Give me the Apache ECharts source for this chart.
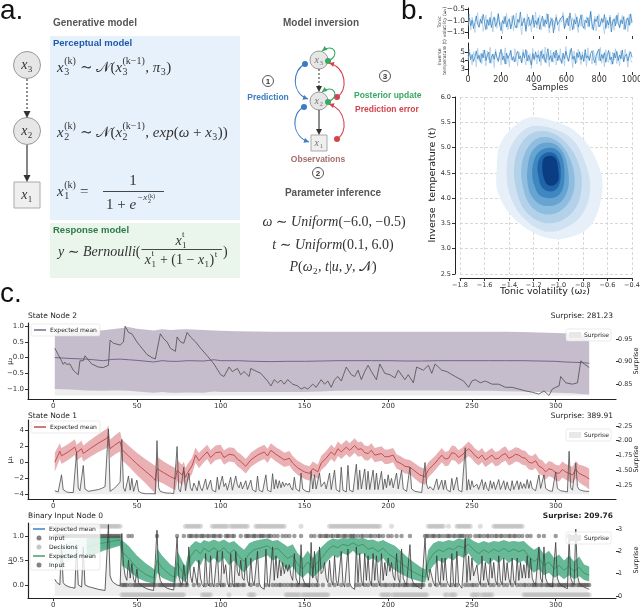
<!DOCTYPE html>
<html>
<head>
<meta charset="utf-8">
<script src="https://cdn.jsdelivr.net/npm/echarts@6/dist/echarts.min.js"></script>
<style>
html, body { margin: 0; padding: 0; background: #fff; }
#chart { width: 640px; height: 608px; }
</style>
</head>
<body>
<div id="chart"></div>
<script>
// ---------- panel b: MCMC traces (1000 samples, thinned) ----------
const tvLight = [-1.25,-0.7,-1.4,-0.85,-1.1,-1.5,-0.9,-0.65,-1.3,-1.05,
  -0.8,-1.45,-1.15,-0.75,-1.35,-0.95,-1.2,-0.6,-1.48,-1.0,
  -0.88,-1.32,-0.72,-1.22,-1.05,-1.55,-0.82,-1.12,-0.68,-1.38,
  -0.98,-1.26,-0.78,-1.42,-1.08,-0.66,-1.3,-0.92,-1.18,-1.6,
  -0.86,-1.03,-1.36,-0.7,-1.24,-0.94,-1.47,-0.8,-1.14,-0.62,
  -1.33,-1.01,-0.76,-1.4,-1.17,-0.9,-1.28,-0.67,-1.09,-1.52,
  -0.84,-1.21,-0.97,-1.37,-0.73,-1.12,-1.45,-0.88,-1.05,-0.64,
  -1.3,-0.95,-1.19,-0.79,-1.43,-1.06,-0.87,-1.34,-0.69,-1.16,
  -1.5,-0.91,-1.23,-0.74,-1.08,-1.39,-0.83,-1.27,-0.99,-0.58,
  -1.35,-1.11,-0.8,-1.44,-1.02,-0.71,-1.25,-0.93,-1.18,-1.56,
  -0.85,-1.07,-1.32,-0.75,-1.2,-0.96,-1.41,-0.82,-1.13,-0.66,
  -1.29,-1.0,-0.77,-1.38,-1.1,-0.89,-1.46,-0.72,-1.15,-0.94];
const tvDark = [-1.02,-0.88,-1.21,-0.97,-1.33,-1.08,-0.79,-1.15,-1.26,-0.93,
  -1.11,-0.72,-1.04,-1.38,-0.95,-1.19,-0.86,-1.29,-1.01,-0.83,
  -1.24,-1.07,-0.69,-1.16,-1.42,-0.98,-1.12,-0.81,-1.27,-1.03,
  -0.91,-1.35,-1.09,-0.77,-1.18,-1.31,-0.94,-1.06,-0.62,-1.22,
  -1.14,-0.89,-1.45,-1.02,-0.84,-1.2,-1.1,-0.75,-1.28,-0.99,
  -1.16,-0.87,-1.36,-1.05,-0.8,-1.23,-0.96,-1.13,-0.71,-1.3,
  -1.04,-0.9,-1.52,-1.08,-0.85,-1.17,-1.25,-0.92,-1.0,-0.78,
  -1.34,-1.11,-0.88,-1.21,-0.66,-1.06,-1.39,-0.95,-1.14,-0.83,
  -1.27,-1.01,-0.74,-1.19,-1.32,-0.97,-1.09,-0.86,-1.24,-0.6,
  -1.12,-1.4,-0.93,-1.03,-0.79,-1.26,-1.15,-0.89,-1.07,-0.73,
  -1.33,-0.98,-1.18,-0.84,-1.48,-1.05,-0.91,-1.22,-0.76,-1.1,
  -1.29,-0.96,-1.13,-0.82,-1.37,-1.02,-0.87,-1.2,-0.7,-1.08];
const ttLight = [3.9,5.3,4.2,3.5,5.0,4.6,3.3,5.4,4.0,4.8,
  3.6,5.2,4.4,3.4,5.1,4.1,5.5,3.7,4.7,3.2,
  5.3,4.3,3.8,5.0,3.5,4.9,4.0,5.45,3.6,4.6,
  3.3,5.2,4.2,3.9,5.35,4.5,3.4,5.0,4.1,3.7,
  5.25,4.3,3.5,5.1,3.9,4.8,3.1,5.4,4.0,4.6,
  3.6,5.15,4.25,3.45,5.3,4.05,5.55,3.7,4.75,3.3,
  5.2,4.15,3.8,5.05,3.5,4.9,4.0,5.35,3.65,4.55,
  3.4,5.6,4.2,3.85,5.25,4.45,3.2,5.1,4.05,3.75,
  5.3,4.35,3.55,5.0,3.95,4.85,3.35,5.45,4.1,4.6,
  3.6,5.2,4.3,3.45,5.1,4.0,5.5,3.7,4.7,3.3,
  5.25,4.15,3.8,5.0,3.55,4.95,4.05,5.35,3.65,4.5,
  3.4,5.15,4.25,3.9,5.3,4.4,3.25,5.05,4.1,3.75];
const ttDark = [4.5,4.9,4.1,4.7,3.9,4.4,5.1,4.2,4.6,3.8,
  4.8,4.3,5.2,4.0,4.55,4.95,3.7,4.4,4.75,4.15,
  5.0,4.35,3.95,4.65,5.3,4.1,4.5,3.6,4.85,4.25,
  4.6,5.15,4.05,4.45,3.85,4.7,5.05,4.2,4.55,3.75,
  4.9,4.3,5.25,3.95,4.6,4.4,3.5,4.8,4.15,5.0,
  4.35,4.65,3.9,5.1,4.25,4.7,3.8,4.5,5.35,4.1,
  4.55,3.85,4.95,4.3,5.2,4.0,4.6,4.45,3.7,4.85,
  4.2,5.05,4.4,3.95,4.75,5.4,4.15,4.5,3.65,4.9,
  4.35,5.0,4.1,4.65,3.9,5.25,4.3,4.55,4.0,4.8,
  5.1,4.2,3.75,4.6,4.45,5.3,3.95,4.7,4.25,4.9,
  3.8,4.55,5.15,4.1,4.4,3.6,4.85,4.3,5.05,4.0,
  4.65,4.2,5.2,3.85,4.5,4.75,3.95,4.6,5.0,4.35];

// ---------- panel b: KDE contour levels (omega_2, t) ----------
const kdeL1 = [[-1.50,4.63],[-1.48,5.02],[-1.39,5.35],[-1.23,5.60],[-1.01,5.50],[-0.85,5.30],[-0.72,4.90],[-0.64,4.30],[-0.70,3.60],[-0.82,3.30],[-1.07,3.20],[-1.34,3.55],[-1.49,4.10]];
const kdeL2 = [[-1.42,4.60],[-1.38,5.05],[-1.24,5.40],[-1.05,5.38],[-0.88,5.15],[-0.78,4.70],[-0.74,4.20],[-0.80,3.70],[-0.95,3.40],[-1.12,3.35],[-1.30,3.65],[-1.40,4.10]];
const kdeL3 = [[-1.36,4.60],[-1.32,5.00],[-1.22,5.28],[-1.06,5.30],[-0.92,5.05],[-0.83,4.65],[-0.81,4.20],[-0.86,3.80],[-0.98,3.55],[-1.13,3.52],[-1.27,3.75],[-1.34,4.15]];
const kdeL4 = [[-1.30,4.60],[-1.26,4.95],[-1.17,5.18],[-1.05,5.18],[-0.95,4.98],[-0.88,4.60],[-0.87,4.20],[-0.92,3.90],[-1.02,3.70],[-1.14,3.70],[-1.24,3.90],[-1.29,4.25]];
const kdeL5 = [[-1.25,4.60],[-1.22,4.90],[-1.14,5.08],[-1.04,5.08],[-0.96,4.90],[-0.92,4.55],[-0.92,4.20],[-0.97,3.95],[-1.05,3.85],[-1.15,3.88],[-1.22,4.05],[-1.25,4.30]];
const kdeL6 = [[-1.21,4.60],[-1.18,4.85],[-1.11,4.98],[-1.03,4.98],[-0.97,4.82],[-0.95,4.52],[-0.96,4.22],[-1.00,4.05],[-1.07,4.00],[-1.15,4.05],[-1.19,4.22],[-1.21,4.40]];
const kdeL7 = [[-1.17,4.60],[-1.15,4.80],[-1.10,4.90],[-1.03,4.88],[-0.99,4.72],[-0.98,4.48],[-0.99,4.28],[-1.03,4.15],[-1.09,4.14],[-1.14,4.24],[-1.16,4.42]];
const kdeL8 = [[-1.13,4.60],[-1.12,4.78],[-1.07,4.84],[-1.02,4.78],[-1.00,4.55],[-1.00,4.35],[-1.04,4.25],[-1.09,4.27],[-1.12,4.42]];
const kdeLevels = [kdeL1, kdeL2, kdeL3, kdeL4, kdeL5, kdeL6, kdeL7, kdeL8];
const kdeColors = ['#e7f0f9', '#d0e2f2', '#b3d1e9', '#8ebddf', '#66a4d1', '#3f87c1', '#1f64a9', '#0b3d82'];

// ---------- panel c: state node 2 ----------
const n2X = [1,10,20,30,35,40,45,50,60,65,70,75,80,90,96,100,110,120,130,140,150,160,170,180,190,200,210,220,230,240,250,260,270,280,290,300,305,310,315,320];
const n2Mean = [0.0,-0.03,-0.05,-0.1,-0.06,-0.05,-0.07,-0.09,-0.14,-0.1,-0.12,-0.12,-0.1,-0.11,-0.07,-0.1,-0.1,-0.12,-0.13,-0.12,-0.12,-0.11,-0.1,-0.1,-0.1,-0.1,-0.11,-0.11,-0.1,-0.1,-0.1,-0.1,-0.1,-0.1,-0.11,-0.12,-0.14,-0.15,-0.16,-0.18];
const n2Upper = [0.80,0.82,0.84,0.87,0.90,0.93,0.97,0.92,0.86,0.90,0.88,0.89,0.90,0.88,0.86,0.85,0.84,0.83,0.82,0.82,0.82,0.82,0.82,0.82,0.82,0.82,0.82,0.82,0.82,0.82,0.82,0.82,0.82,0.81,0.80,0.78,0.77,0.75,0.74,0.72];
const n2Lower = [-1.00,-1.02,-1.05,-1.06,-1.05,-1.05,-1.06,-1.08,-1.12,-1.10,-1.12,-1.12,-1.11,-1.12,-1.08,-1.10,-1.10,-1.10,-1.10,-1.10,-1.10,-1.08,-1.06,-1.05,-1.05,-1.05,-1.05,-1.05,-1.05,-1.06,-1.06,-1.06,-1.07,-1.08,-1.10,-1.12,-1.13,-1.14,-1.16,-1.18];
const n2Surprise = [[1,0.930],[3,0.916],[5,0.902],[6,0.894],[7,0.899],[8,0.894],[10,0.895],[12,0.881],[15,0.871],[16,0.902],
  [17,0.899],[18,0.902],[19,0.913],[20,0.909],[23,0.895],[27,0.888],[30,0.887],[33,0.892],[34,0.948],[36,0.941],
  [40,0.937],[42,0.944],[43,0.979],[44,0.972],[45,0.965],[46,0.969],[47,0.962],[48,0.964],[50,0.944],[53,0.930],
  [56,0.916],[59,0.909],[61,0.906],[62,0.909],[64,0.962],[66,0.951],[68,0.944],[70,0.930],[73,0.923],[74,0.955],
  [76,0.944],[78,0.941],[80,0.965],[82,0.955],[85,0.944],[88,0.930],[92,0.913],[96,0.895],[100,0.871],[102,0.867],
  [105,0.888],[107,0.878],[110,0.885],[112,0.871],[114,0.878],[117,0.867],[118,0.885],[120,0.881],[124,0.874],[128,0.857],
  [130,0.846],[132,0.860],[134,0.853],[136,0.859],[138,0.850],[140,0.860],[143,0.850],[146,0.846],[148,0.839],[150,0.843],
  [152,0.839],[155,0.850],[157,0.843],[160,0.860],[162,0.850],[164,0.857],[166,0.843],[168,0.860],[170,0.867],[172,0.857],
  [175,0.888],[178,0.871],[180,0.867],[182,0.881],[184,0.860],[186,0.878],[188,0.892],[190,0.878],[193,0.860],[195,0.895],
  [198,0.874],[201,0.871],[204,0.864],[206,0.881],[210,0.860],[212,0.871],[215,0.853],[217,0.888],[221,0.881],[224,0.892],
  [226,0.874],[228,0.895],[232,0.881],[235,0.878],[240,0.867],[245,0.857],[248,0.843],[250,0.857],[252,0.860],[255,0.853],
  [258,0.857],[262,0.850],[266,0.850],[270,0.843],[274,0.843],[278,0.839],[282,0.835],[286,0.832],[290,0.828],[293,0.835],
  [296,0.825],[298,0.839],[300,0.843],[302,0.846],[303,0.867],[306,0.853],[310,0.850],[313,0.853],[315,0.902],[317,0.895],[320,0.887]];

// ---------- panel c: state node 1 ----------
const n1X = [1,4,5,9,13,14,17,18,22,27,
  32,33,34,37,40,41,45,50,55,60,
  61,62,66,70,73,74,77,78,79,80,
  83,85,87,90,92,94,97,100,102,105,
  108,110,112,115,118,122,126,128,130,133,
  136,138,141,143,146,150,153,155,158,160,
  163,166,168,170,172,175,177,180,182,184,
  186,188,190,192,196,198,200,203,205,208,
  210,213,215,219,222,224,228,230,232,234,
  236,238,240,242,244,246,248,250,252,254,
  256,258,260,262,264,266,268,270,272,274,
  276,278,280,282,284,286,288,290,292,294,
  296,298,300,302,304,306,308,310,312,314,
  316,318,320];
const n1Mean = [0.0,1.4,0.8,1.3,1.9,1.2,1.7,1.1,1.7,2.4,
  3.0,3.3,1.7,2.2,2.6,1.6,0.8,-0.2,-1.1,-2.0,
  -2.3,-0.8,-1.3,-1.8,-2.1,-1.0,-1.6,-1.1,-1.9,-1.4,
  -0.4,0.9,0.2,0.9,1.3,0.6,1.2,1.3,0.6,1.0,
  0.9,0.4,0.1,-0.5,0.3,0.9,1.3,0.8,1.5,1.0,
  0.6,0.3,0.5,-0.1,-0.7,-1.2,-1.4,-0.8,-1.2,-0.1,
  0.5,1.3,0.9,1.7,1.3,1.9,1.5,2.1,1.6,1.7,
  1.2,1.1,1.5,0.9,1.1,0.7,0.7,0.9,0.1,-0.2,
  -0.5,-0.6,-0.95,-1.6,-1.8,-0.95,-0.1,0.4,0.9,0.4,
  0.5,1.2,1.1,0.6,0.9,1.3,1.7,1.3,0.8,0.5,
  0.9,0.3,0.6,0.9,0.4,0.5,0.9,1.1,0.5,0.7,
  1.0,0.9,0.6,0.5,0.0,-0.1,0.2,-0.5,-0.7,-1.2,
  -0.8,-0.95,-1.3,-1.4,-0.9,-1.2,-1.4,-1.6,-0.9,-1.4,
  -1.6,-1.8,-2.1];
const n1Sd = [1.2,1.0,1.0,1.0,1.0,1.0,1.0,1.0,1.05,1.1,
  1.2,1.3,1.15,1.2,1.25,1.3,1.3,1.4,1.5,1.7,
  1.85,1.5,1.4,1.4,1.4,1.3,1.3,1.2,1.2,1.1,
  1.0,0.95,0.95,0.9,0.9,0.9,0.9,0.9,0.9,0.9,
  0.9,0.9,0.9,0.9,0.9,0.9,0.9,0.9,0.9,0.9,
  0.9,0.9,0.9,0.9,0.9,0.9,0.9,0.9,0.9,0.9,
  0.9,0.9,0.9,0.9,0.9,0.9,0.9,0.9,0.9,0.9,
  0.9,0.9,0.9,0.9,0.9,0.9,0.9,0.9,0.9,0.9,
  0.9,0.9,0.95,1.0,1.0,0.95,0.9,0.9,0.9,0.9,
  0.9,0.9,0.9,0.9,0.9,0.9,0.9,0.9,0.9,0.9,
  0.9,0.9,0.9,0.9,0.9,0.9,0.9,0.9,0.9,0.9,
  0.9,0.9,0.9,0.9,0.9,0.9,0.9,0.95,0.95,0.95,
  0.95,0.95,1.0,1.0,1.0,1.0,1.0,1.05,1.1,1.1,
  1.2,1.25,1.3];
const n1Surprise = [1.15,1.13,1.13,1.12,1.42,1.17,1.14,1.13,1.13,1.12,
  1.12,1.12,1.11,1.80,1.2,1.15,1.14,1.58,1.18,1.15,
  1.14,1.14,1.15,1.15,1.16,1.16,1.17,1.18,1.19,1.2,
  1.22,1.24,2.2,1.14,1.16,1.18,1.2,1.23,1.26,1.3,
  2.02,1.2,1.14,1.12,1.40,1.16,1.36,1.14,1.12,1.33,
  1.14,1.12,1.11,1.11,1.1,1.1,1.1,1.1,1.1,1.1,
  1.1,2.0,1.2,1.14,1.12,1.12,1.11,1.11,1.11,1.11,
  1.11,1.1,1.1,1.9,1.18,1.13,1.12,1.55,1.15,1.13,
  1.45,1.2,1.15,1.28,1.22,1.15,1.32,1.2,1.15,1.14,
  1.35,1.17,1.14,1.33,1.16,1.14,1.13,1.38,1.17,1.14,
  1.4,1.22,1.28,1.16,1.14,1.38,1.16,1.14,1.4,1.25,
  1.2,1.3,1.18,1.16,1.32,1.17,1.14,1.33,1.17,1.14,
  1.13,1.4,1.16,1.14,1.13,1.13,1.42,1.16,1.14,1.13,
  1.44,1.18,1.34,1.19,1.32,1.2,1.3,1.22,1.28,1.24,
  1.28,1.2,1.16,1.38,1.18,1.15,1.14,1.45,1.18,1.15,
  1.14,1.13,1.13,1.48,1.18,1.42,1.18,1.15,1.45,1.22,
  1.25,1.3,1.18,1.15,1.45,1.17,1.14,1.5,1.17,1.14,
  1.13,1.55,1.16,1.14,1.13,1.58,1.16,1.14,1.13,1.13,
  1.6,1.17,1.5,1.18,1.15,1.52,1.17,1.48,1.17,1.14,
  1.5,1.17,1.45,1.17,1.14,1.48,1.17,1.35,1.2,1.42,
  1.24,1.36,1.2,1.17,1.45,1.18,1.15,1.5,1.18,1.15,
  1.14,1.13,1.55,1.18,1.15,1.14,1.13,1.13,1.12,1.12,
  1.12,1.63,1.25,1.18,1.22,1.2,1.16,1.14,1.35,1.17,
  1.14,1.33,1.17,1.33,1.17,1.14,1.13,1.36,1.16,1.14,
  1.38,1.16,1.14,1.13,1.13,1.88,1.16,1.34,1.17,1.32,
  1.21,1.21,1.26,1.17,1.14,1.34,1.17,1.3,1.19,1.15,
  1.32,1.19,1.3,1.17,1.15,1.34,1.17,1.14,1.32,1.17,
  1.3,1.19,1.15,1.32,1.17,1.14,1.32,1.17,1.3,1.19,
  1.27,1.19,1.34,1.19,1.32,1.19,1.16,1.15,1.14,1.42,
  1.19,1.16,1.42,1.19,1.16,1.15,1.14,1.14,1.13,1.47,
  1.19,1.16,1.15,1.14,1.14,1.13,1.13,1.82,1.2,1.16,
  1.15,1.62,1.22,1.17,1.16,1.15,1.15,1.14,1.14,1.14];

// ---------- panel c: binary input node 0 ----------
const tealX = [1,3,5,10,15,20,25,30,35,40];
const tealLo = [0.30,0.32,0.40,0.50,0.58,0.64,0.70,0.75,0.79,0.82];
const tealHi = [0.70,0.75,0.82,0.90,0.94,0.97,0.98,0.99,1.0,1.0];
const n0X = [20,25,30,35,40,41,45,50,55,60,
  61,62,65,70,73,74,77,79,80,82,
  85,88,90,93,96,99,102,105,108,111,
  114,117,120,124,128,131,134,137,140,143,
  146,149,152,155,158,161,164,167,170,173,
  176,179,182,185,188,191,194,197,200,204,
  208,212,216,220,222,224,227,230,233,236,
  239,242,245,248,251,254,257,260,263,266,
  269,272,275,278,281,284,287,290,293,296,
  299,302,305,308,311,314,317,320];
const n0Lo = [0.55,0.62,0.70,0.75,0.80,0.40,0.30,0.15,0.07,0.03,
  0.02,0.25,0.15,0.07,0.04,0.20,0.10,0.05,0.15,0.35,
  0.50,0.40,0.55,0.45,0.55,0.45,0.55,0.40,0.50,0.35,
  0.25,0.40,0.50,0.55,0.60,0.50,0.55,0.40,0.30,0.38,
  0.22,0.15,0.25,0.15,0.25,0.35,0.50,0.60,0.55,0.65,
  0.60,0.70,0.60,0.65,0.50,0.55,0.45,0.55,0.40,0.30,
  0.22,0.15,0.10,0.06,0.05,0.25,0.40,0.50,0.45,0.55,
  0.50,0.60,0.55,0.65,0.50,0.40,0.50,0.42,0.52,0.45,
  0.55,0.45,0.52,0.45,0.50,0.35,0.25,0.32,0.20,0.25,
  0.15,0.20,0.12,0.20,0.12,0.18,0.10,0.07];
const n0Hi = [0.95,0.97,0.98,0.99,1.00,0.92,0.80,0.60,0.45,0.33,
  0.30,0.75,0.60,0.42,0.35,0.70,0.50,0.38,0.55,0.80,
  0.90,0.85,0.92,0.88,0.93,0.88,0.93,0.86,0.90,0.80,
  0.72,0.85,0.90,0.93,0.95,0.90,0.92,0.85,0.78,0.83,
  0.65,0.55,0.70,0.55,0.70,0.80,0.90,0.95,0.93,0.96,
  0.95,0.97,0.95,0.96,0.92,0.93,0.88,0.92,0.86,0.80,
  0.68,0.55,0.45,0.35,0.32,0.72,0.85,0.90,0.88,0.92,
  0.90,0.95,0.93,0.97,0.90,0.85,0.90,0.86,0.90,0.88,
  0.92,0.88,0.90,0.88,0.90,0.80,0.72,0.78,0.62,0.70,
  0.55,0.62,0.50,0.60,0.48,0.58,0.42,0.38];
const n0Mean = [0.78,0.82,0.86,0.89,0.92,0.68,0.55,0.35,0.22,0.14,
  0.12,0.50,0.35,0.20,0.15,0.45,0.28,0.18,0.32,0.58,
  0.72,0.64,0.75,0.68,0.76,0.68,0.76,0.64,0.72,0.58,
  0.48,0.64,0.72,0.76,0.80,0.72,0.75,0.64,0.54,0.60,
  0.42,0.33,0.47,0.33,0.47,0.58,0.72,0.80,0.76,0.83,
  0.80,0.86,0.80,0.83,0.73,0.76,0.68,0.75,0.64,0.55,
  0.44,0.33,0.25,0.18,0.16,0.48,0.64,0.72,0.68,0.75,
  0.72,0.80,0.76,0.83,0.72,0.64,0.72,0.66,0.73,0.68,
  0.75,0.68,0.73,0.68,0.72,0.58,0.48,0.55,0.40,0.47,
  0.33,0.40,0.30,0.38,0.28,0.36,0.24,0.20];
const n0Surprise = [0.75,0.62,0.55,0.5,2.3,0.6,0.5,0.45,0.42,0.4,
  0.38,0.36,0.35,2.3,0.5,0.45,0.4,2.2,0.5,0.45,
  0.42,0.4,0.38,0.36,0.34,0.32,0.3,0.28,0.27,0.26,
  0.25,0.24,3.2,0.9,0.7,0.6,0.55,0.5,0.47,0.45,
  2.8,1.4,0.9,0.7,1.6,0.8,1.45,0.75,0.6,1.2,
  0.6,0.5,0.45,0.4,0.35,0.32,0.3,0.28,0.26,0.25,
  0.24,2.95,1.1,0.7,0.55,0.45,0.4,0.35,0.32,0.3,
  0.28,0.27,0.26,2.65,0.9,0.6,0.5,1.4,0.7,0.5,
  2.2,0.9,0.6,1.3,0.9,0.5,1.6,0.8,0.5,0.4,
  1.9,0.6,0.45,1.8,0.6,0.4,0.35,2.0,0.6,0.4,
  2.0,1.0,1.4,0.6,0.4,1.9,0.6,0.4,2.0,1.1,
  0.9,1.6,0.8,0.7,1.7,0.7,0.45,1.7,0.7,0.45,
  0.4,2.0,0.6,0.4,0.35,0.3,2.1,0.6,0.4,0.35,
  2.2,0.7,1.8,0.8,1.6,0.9,1.5,1.0,1.4,1.1,
  1.4,0.9,0.7,1.9,0.8,0.6,0.5,2.3,0.8,0.6,
  0.5,0.45,0.4,2.4,0.8,2.0,0.8,0.6,2.2,1.0,
  1.1,1.5,0.8,0.6,1.6,0.7,0.5,1.8,0.7,0.45,
  0.4,2.0,0.6,0.4,0.35,2.1,0.6,0.4,0.35,0.3,
  2.2,0.6,1.9,0.7,0.45,1.9,0.7,1.8,0.7,0.45,
  1.9,0.7,1.8,0.7,0.45,1.9,0.7,1.5,0.9,1.7,
  1.1,1.5,0.9,0.7,1.9,0.8,0.6,2.1,0.8,0.6,
  0.5,0.45,2.3,0.8,0.6,0.5,0.45,0.4,0.35,0.32,
  0.3,2.6,1.1,0.7,1.2,0.9,0.6,0.45,1.8,0.7,
  0.5,1.7,0.7,1.7,0.7,0.5,0.4,1.9,0.6,0.4,
  2.0,0.6,0.45,0.35,0.3,2.6,0.6,1.8,0.7,1.7,
  0.9,0.9,1.4,0.7,0.5,1.8,0.7,1.5,0.8,0.5,
  1.7,0.8,1.5,0.7,0.5,1.8,0.7,0.5,1.7,0.7,
  1.5,0.8,0.5,1.7,0.7,0.5,1.7,0.7,1.5,0.8,
  1.4,0.8,1.8,0.8,1.7,0.8,0.6,0.5,0.45,2.2,
  0.8,0.6,2.2,0.8,0.6,0.5,0.45,0.4,0.35,2.4,
  0.8,0.6,0.5,0.45,0.4,0.35,0.33,2.6,0.8,0.6,
  0.5,3.0,0.9,0.6,0.5,0.45,0.4,0.35,0.33,0.3];
// observed binary inputs, trials 1..320
const inputBits =
  '1111111111' + '1111111111' + '1111111111' + '1111111111' +
  '0000101000' + '0000000000' + '0100000000' + '0001000100' +
  '1110110111' + '0110111011' + '0011101100' + '0100111011' +
  '1011110111' + '0101001010' + '1001000100' + '0001010011' +
  '0111011011' + '1011101111' + '0101101011' + '0101101001' +
  '0100100100' + '0010000000' + '0111011101' + '1010111011' +
  '0111101010' + '0101101011' + '0101101101' + '0110110101' +
  '0010100001' + '0010000001' + '0000000100' + '0100000000';
// trial ranges where the agent decided "1"
const decisionRuns = [[1,40],[79,88],[95,104],[106,116],[121,138],[148,148],[165,195],[202,202],[224,233],[236,236],[241,249],[255,255],[263,280]];
const trialTicks = [0, 50, 100, 150, 200, 250, 300];

// ---------- helpers ----------
const MPL = "'DejaVu Sans', sans-serif";
const SANS = "'Liberation Sans', Arial, sans-serif";
const SERIF = "'Liberation Serif', 'DejaVu Serif', serif";
const minus = v => String(v).replace('-', '\u2212');

const measure = document.createElement('canvas').getContext('2d');
function textW(s, size, italic) {
  measure.font = (italic ? 'italic ' : '') + size + 'px ' + SERIF;
  return measure.measureText(s).width;
}

const G = [];
function txt(x, y, s, o) {
  G.push({ type: 'text', x: x, y: y, silent: true, z: 10,
    style: Object.assign({ text: s, fill: '#333', fontSize: 10, fontFamily: SANS,
      textAlign: 'left', textVerticalAlign: 'middle' }, o || {}) });
}
function vtxt(x, y, s, size) {
  G.push({ type: 'text', x: x, y: y, rotation: Math.PI / 2, silent: true, z: 10,
    style: { text: s, fontSize: size, fontFamily: MPL, fill: '#222', textAlign: 'center', textVerticalAlign: 'middle' } });
}
function circ(cx, cy, r, fill, stroke, lw, z) {
  G.push({ type: 'circle', silent: true, z: z || 10, shape: { cx, cy, r }, style: { fill, stroke: stroke || null, lineWidth: lw || 1 } });
}
function rect(x, y, w, h, fill, stroke, lw, z, r) {
  G.push({ type: 'rect', silent: true, z: z || 1, shape: { x, y, width: w, height: h, r: r || 0 }, style: { fill, stroke: stroke || null, lineWidth: lw || 1 } });
}
function seg(x1, y1, x2, y2, color, lw, dash, z) {
  G.push({ type: 'line', silent: true, z: z || 10, shape: { x1, y1, x2, y2 }, style: { stroke: color, lineWidth: lw || 1, lineDash: dash || null } });
}
function head(x, y, ang, color, size) {
  const s = size || 6, w = s * 0.5;
  const bx = x - s * Math.cos(ang), by = y - s * Math.sin(ang);
  G.push({ type: 'polygon', silent: true, z: 11, shape: { points: [[x, y],
    [bx + w * Math.sin(ang), by - w * Math.cos(ang)], [bx - w * Math.sin(ang), by + w * Math.cos(ang)]] },
    style: { fill: color } });
}
function curveArrow(x1, y1, c1x, c1y, c2x, c2y, x2, y2, color) {
  G.push({ type: 'bezierCurve', silent: true, z: 10,
    shape: { x1, y1, x2, y2, cpx1: c1x, cpy1: c1y, cpx2: c2x, cpy2: c2y },
    style: { stroke: color, lineWidth: 1.1, fill: null } });
  circ(x1, y1, 3, color);
  head(x2, y2, Math.atan2(y2 - c2y, x2 - c2x), color, 5);
}
function numCircle(cx, cy, n) {
  circ(cx, cy, 5.5, '#fff', '#444', 0.9);
  txt(cx, cy + 0.5, n, { fontSize: 8, fontWeight: 'bold', textAlign: 'center', fill: '#333' });
}

// math row: tokens [text, kind]; kind i=italic, r=roman, s=subscript, p=superscript, b=[sup, sub]
function mathRow(x0, y, tokens, size, align, color) {
  const small = Math.round(size * 0.66);
  const parts = [];
  let x = 0;
  tokens.forEach(function (tk) {
    const t = tk[0], k = tk[1];
    if (k === 'i' || k === 'r') {
      parts.push({ t, x, dy: 0, s: size, it: k === 'i' });
      x += textW(t, size, k === 'i');
    } else if (k === 's' || k === 'p') {
      parts.push({ t, x: x + 0.5, dy: k === 's' ? size * 0.3 : -size * 0.4, s: small, it: false });
      x += textW(t, small, false) + 1;
    } else {
      parts.push({ t: t[0], x: x + 0.5, dy: -size * 0.42, s: small, it: false });
      parts.push({ t: t[1], x: x + 0.5, dy: size * 0.32, s: small, it: false });
      x += Math.max(textW(t[0], small), textW(t[1], small)) + 1;
    }
  });
  const start = align === 'center' ? x0 - x / 2 : x0;
  parts.forEach(function (p) {
    txt(start + p.x, y + p.dy, p.t, { fontSize: p.s, fontFamily: SERIF, fontStyle: p.it ? 'italic' : 'normal', fill: color || '#333' });
  });
  return start + x;
}

// ---------- panel a drawing ----------
txt(0, 25, 'a.', { fontSize: 28, fontFamily: SANS, textVerticalAlign: 'bottom', fill: '#111' });
txt(53, 23, 'Generative model', { fontSize: 10, fontWeight: 'bold', fill: '#555' });
rect(50, 36, 190, 184, '#e7f1fb');
rect(50, 223, 190, 55, '#eaf5ec');
txt(53, 43, 'Perceptual model', { fontSize: 9.5, fontWeight: 'bold', fill: '#1f5aa6' });
txt(53, 230, 'Response model', { fontSize: 9.5, fontWeight: 'bold', fill: '#2e7a4a' });

circ(27, 65, 13.5, '#e6e6e6', '#999', 1);
circ(27, 131, 13.5, '#e6e6e6', '#999', 1);
rect(14, 182, 26, 26, '#efefef', '#aaa', 1, 10);
mathRow(27, 65, [['x', 'i'], ['3', 's']], 14, 'center');
mathRow(27, 131, [['x', 'i'], ['2', 's']], 14, 'center');
mathRow(27, 195, [['x', 'i'], ['1', 's']], 14, 'center');
seg(27, 79, 27, 112, '#444', 1.2, [2, 2]);
head(27, 118, Math.PI / 2, '#333', 7);
seg(27, 145, 27, 176, '#444', 1.3);
head(27, 182, Math.PI / 2, '#333', 7);

mathRow(57, 68, [['x', 'i'], [['(k)', '3'], 'b'], [' \u223C ', 'r'], ['\uD835\uDCA9', 'r'], ['(', 'r'], ['x', 'i'], [['(k\u22121)', '3'], 'b'], [', ', 'r'], ['\u03C0', 'i'], ['3', 's'], [')', 'r']], 15);
mathRow(57, 133, [['x', 'i'], [['(k)', '2'], 'b'], [' \u223C ', 'r'], ['\uD835\uDCA9', 'r'], ['(', 'r'], ['x', 'i'], [['(k\u22121)', '2'], 'b'], [', ', 'r'], ['exp', 'i'], ['(', 'r'], ['\u03C9', 'i'], [' + ', 'r'], ['x', 'i'], ['3', 's'], ['))', 'r']], 15);
mathRow(57, 192, [['x', 'i'], [['(k)', '1'], 'b'], [' = ', 'r']], 15);
mathRow(133, 181, [['1', 'r']], 15, 'center');
seg(103, 191.5, 164, 191.5, '#333', 0.9);
const eEnd = mathRow(106, 205, [['1 + ', 'r'], ['e', 'i']], 15);
mathRow(eEnd + 1, 198, [['\u2212x', 'i']], 9);
txt(eEnd + 12, 196, '(k)', { fontSize: 6, fontFamily: SERIF, fill: '#333' });
txt(eEnd + 12, 201, '2', { fontSize: 6, fontFamily: SERIF, fill: '#333' });

const bEnd = mathRow(58, 252, [['y', 'i'], [' \u223C ', 'r'], ['Bernoulli', 'i'], ['(', 'r']], 14);
seg(bEnd + 1, 249.5, 222, 249.5, '#333', 0.9);
mathRow((bEnd + 222) / 2, 241, [['x', 'i'], [['t', '1'], 'b']], 14, 'center');
mathRow((bEnd + 222) / 2, 260, [['x', 'i'], [['t', '1'], 'b'], [' + (1 \u2212 ', 'r'], ['x', 'i'], ['1', 's'], [')', 'r'], ['t', 'p']], 14, 'center');
mathRow(223, 252, [[')', 'r']], 14);

// model inversion
txt(321, 23, 'Model inversion', { fontSize: 10, fontWeight: 'bold', fill: '#555', textAlign: 'center' });
circ(319, 60, 9, '#e6e6e6', '#9a9a9a', 1);
circ(319, 101, 9, '#e6e6e6', '#9a9a9a', 1);
rect(311, 135, 16, 16, '#efefef', '#aaa', 1, 10);
mathRow(319, 60, [['x', 'i'], ['3', 's']], 10, 'center', '#777');
mathRow(319, 101, [['x', 'i'], ['2', 's']], 10, 'center', '#777');
mathRow(319, 143, [['x', 'i'], ['1', 's']], 10, 'center', '#777');
seg(319, 69, 319, 87, '#444', 1.1, [2, 2]);
head(319, 92, Math.PI / 2, '#333', 6);
seg(319, 110, 319, 130, '#444', 1.2);
head(319, 135, Math.PI / 2, '#333', 6);
curveArrow(305, 64, 292, 70, 291, 93, 308, 99, '#3c7cc4');
curveArrow(304, 107, 291, 113, 291, 136, 309, 142, '#3c7cc4');
curveArrow(337, 139, 348, 133, 347, 110, 329, 104, '#d4444c');
curveArrow(337, 97, 348, 91, 347, 68, 329, 63, '#d4444c');
curveArrow(328, 61, 341, 56, 334, 42, 322, 51, '#3aa864');
curveArrow(328, 102, 341, 97, 334, 83, 322, 92, '#3aa864');
numCircle(268, 81, '1');
txt(268, 98, 'Prediction', { fontSize: 8.5, fontWeight: 'bold', fill: '#3c7cc4', textAlign: 'center' });
numCircle(385, 76, '3');
txt(354, 96, 'Posterior update', { fontSize: 8.5, fontWeight: 'bold', fill: '#3aa864' });
txt(355, 110, 'Prediction error', { fontSize: 8.5, fontWeight: 'bold', fill: '#d4444c' });
txt(318, 160, 'Observations', { fontSize: 8.5, fontWeight: 'bold', fill: '#a56d6d', textAlign: 'center' });
numCircle(318, 173, '2');
txt(333, 193, 'Parameter inference', { fontSize: 10, fontWeight: 'bold', fill: '#555', textAlign: 'center' });
mathRow(334, 222, [['\u03C9', 'i'], [' \u223C ', 'r'], ['Uniform', 'i'], ['(\u22126.0, \u22120.5)', 'r']], 14, 'center');
mathRow(333, 245, [['t', 'i'], [' \u223C ', 'r'], ['Uniform', 'i'], ['(0.1, 6.0)', 'r']], 14, 'center');
mathRow(333, 267, [['P', 'i'], ['(', 'r'], ['\u03C9', 'i'], ['2', 's'], [', ', 'r'], ['t', 'i'], ['|', 'r'], ['u', 'i'], [', ', 'r'], ['y', 'i'], [', ', 'r'], ['\uD835\uDCA9', 'r'], [')', 'r']], 14, 'center');

// ---------- panel b/c labels ----------
txt(401, 25, 'b.', { fontSize: 28, textVerticalAlign: 'bottom', fill: '#111' });
txt(0, 308, 'c.', { fontSize: 28, textVerticalAlign: 'bottom', fill: '#111' });
G.push({ type: 'text', x: 442, y: 22, rotation: Math.PI / 2, silent: true, style: { text: 'Tonic\nvolatility (\u03C9\u2082)', fontSize: 4.6, fontFamily: MPL, fill: '#333', textAlign: 'center', textVerticalAlign: 'middle' } });
G.push({ type: 'text', x: 442, y: 57, rotation: Math.PI / 2, silent: true, style: { text: 'Inverse\ntemperature (t)', fontSize: 4.6, fontFamily: MPL, fill: '#333', textAlign: 'center', textVerticalAlign: 'middle' } });
txt(550, 88, 'Samples', { fontSize: 8.5, fontFamily: MPL, textAlign: 'center', fill: '#222' });
txt(545, 292, 'Tonic volatility (\u03C9\u2082)', { fontSize: 9.5, fontFamily: MPL, textAlign: 'center', fill: '#222' });
vtxt(433, 185, 'Inverse  temperature (t)', 9.5);

// panel c titles and twin-axis names
const cTitles = [[316, 'State Node 2', 'Surprise: 281.23', 'normal'], [416, 'State Node 1', 'Surprise: 389.91', 'normal'], [516, 'Binary Input Node 0', 'Surprise: 209.76', 'bold']];
cTitles.forEach(function (t) {
  txt(28, t[0], t[1], { fontSize: 7.5, fontFamily: MPL, fill: '#222' });
  txt(613, t[0], t[2], { fontSize: 7.5, fontFamily: MPL, fill: '#222', textAlign: 'right', fontWeight: t[3] });
});
vtxt(636, 361, 'Surprise', 6.5);
vtxt(636, 459, 'Surprise', 6.5);
vtxt(636, 560, 'Surprise', 6.5);

// legends for panel c
function legendBox(x, y, w, h) { rect(x, y, w, h, 'rgba(255,255,255,0.8)', '#ddd', 0.6, 50, 2); }
function legLine(x, y, color, label) { seg(x, y, x + 12, y, color, 1.5, null, 51); txt(x + 16, y, label, { fontSize: 6, fontFamily: MPL, fill: '#222' }); G[G.length - 1].z = 51; }
function legDot(x, y, color, label) { circ(x + 6, y, 2.5, color, null, 1, 51); txt(x + 16, y, label, { fontSize: 6, fontFamily: MPL, fill: '#222' }); G[G.length - 1].z = 51; }
function legSurprise(y) { legendBox(566, y, 45, 12); rect(569, y + 3, 12, 6, '#e8e8e8', null, 1, 51); txt(584, y + 6, 'Surprise', { fontSize: 6, fontFamily: MPL, fill: '#222' }); G[G.length - 1].z = 51; }
legendBox(31, 324, 69, 12); legLine(34, 330, '#7a6a8c', 'Expected mean');
legSurprise(329);
legendBox(31, 421, 69, 12); legLine(34, 427, '#c44e52', 'Expected mean');
legSurprise(429);
legendBox(30, 524, 70, 46);
legLine(33, 529, '#3d85c6', 'Expected mean');
legDot(33, 538, 'rgba(90,90,90,0.75)', 'Input');
legDot(33, 547, 'rgba(185,185,185,0.8)', 'Decisions');
legLine(33, 556, '#4a9e6e', 'Expected mean');
legDot(33, 565, 'rgba(90,90,90,0.75)', 'Input');
legSurprise(532);

// ---------- series builders ----------
function bandSeries(xi, yi, xs, lo, hi, color, z) {
  return { type: 'custom', xAxisIndex: xi, yAxisIndex: yi, z: z, silent: true, clip: true,
    data: [[xs[0], lo[0]]],
    renderItem: function (params, api) {
      const pts = [];
      for (let i = 0; i < xs.length; i++) pts.push(api.coord([xs[i], hi[i]]));
      for (let i = xs.length - 1; i >= 0; i--) pts.push(api.coord([xs[i], lo[i]]));
      return { type: 'polygon', shape: { points: pts }, style: { fill: color } };
    } };
}
function lineSeries(xi, yi, data, color, width, z) {
  return { type: 'line', xAxisIndex: xi, yAxisIndex: yi, data: data, showSymbol: false, silent: true, z: z,
    lineStyle: { color: color, width: width }, emphasis: { disabled: true } };
}
function fillSeries(xi, yi, data, origin) {
  return { type: 'line', xAxisIndex: xi, yAxisIndex: yi, data: data, showSymbol: false, silent: true, z: 1,
    lineStyle: { width: 0, opacity: 0 }, areaStyle: { color: '#eeeeee', opacity: 1, origin: origin } };
}
const pairs = (xs, ys) => xs.map((x, i) => [x, ys[i]]);
const trials = n0Surprise.map((_, i) => i + 1);
const traceX = tvDark.map((_, i) => i * 1000 / (tvDark.length - 1));

const inputs = inputBits.split('').map(Number);
const decisions = trials.map(t => decisionRuns.some(r => t >= r[0] && t <= r[1]) ? 1 : 0);

const n1Hi = n1Mean.map((m, i) => m + n1Sd[i]);
const n1Lo = n1Mean.map((m, i) => m - n1Sd[i]);

// ---------- axes ----------
const tickLbl = { fontSize: 7, color: '#333', fontFamily: MPL, margin: 4 };
const spine = { show: true, onZero: false, lineStyle: { color: '#222', width: 1.2 } };
function cX(gi) {
  return { type: 'value', gridIndex: gi, min: -15, max: 336,
    axisLine: spine,
    axisTick: { show: true, length: 3, customValues: trialTicks, lineStyle: { color: '#333' } },
    axisLabel: Object.assign({ customValues: trialTicks }, tickLbl),
    splitLine: { show: false } };
}
function cYLeft(gi, min, max, ticks, name, fmt) {
  return { type: 'value', gridIndex: gi, min, max, position: 'left',
    name: name, nameLocation: 'middle', nameGap: 14, nameRotate: 90, nameMoveOverlap: false,
    nameTextStyle: { fontSize: 7, fontFamily: MPL, color: '#222' },
    axisLine: spine,
    axisTick: { show: true, length: 3, customValues: ticks, lineStyle: { color: '#333' } },
    axisLabel: Object.assign({ customValues: ticks, formatter: v => minus(fmt(v)) }, tickLbl),
    splitLine: { show: false } };
}
function cYRight(gi, min, max, ticks, fmt) {
  return { type: 'value', gridIndex: gi, min, max, position: 'right',
    axisLine: { show: false, onZero: false },
    axisTick: { show: true, length: 3, customValues: ticks, lineStyle: { color: '#333' } },
    axisLabel: { customValues: ticks, formatter: v => fmt(v), fontSize: 6.5, color: '#333', fontFamily: MPL, margin: 2 },
    splitLine: { show: false } };
}
const gridBase = { containLabel: false, outerBoundsMode: 'none' };
const mkGrid = (left, top, width, height) => Object.assign({ left, top, width, height }, gridBase);

const option = {
  animation: false,
  backgroundColor: '#fff',
  grid: [
    mkGrid(468, 8, 164, 28),
    mkGrid(468, 43, 164, 29),
    mkGrid(460, 97, 172, 177),
    mkGrid(28, 323, 588, 76),
    mkGrid(28, 420, 588, 79),
    mkGrid(28, 523, 588, 75)
  ],
  xAxis: [
    { type: 'value', gridIndex: 0, min: 0, max: 1000, interval: 200,
      axisLine: { show: false, onZero: false }, axisTick: { show: true, length: 3, lineStyle: { color: '#333' } },
      axisLabel: { show: false }, splitLine: { show: false } },
    { type: 'value', gridIndex: 1, min: 0, max: 1000, interval: 200,
      axisLine: { show: false, onZero: false }, axisTick: { show: true, length: 3, lineStyle: { color: '#333' } },
      axisLabel: { fontSize: 8, color: '#333', fontFamily: MPL, margin: 4, formatter: v => String(v) }, splitLine: { show: false } },
    { type: 'value', gridIndex: 2, min: -1.8, max: -0.4, interval: 0.2, offset: 4,
      axisLine: { show: true, onZero: false, lineStyle: { color: '#222', width: 1 } },
      axisTick: { show: true, length: 3, lineStyle: { color: '#333' } },
      axisLabel: { fontSize: 6.5, color: '#333', fontFamily: MPL, margin: 4, formatter: v => minus(v.toFixed(1)) },
      splitLine: { show: true, lineStyle: { color: '#cfcfcf', type: [3, 2], width: 0.8 } } },
    cX(3), cX(4), cX(5)
  ],
  yAxis: [
    { type: 'value', gridIndex: 0, min: -1.65, max: -0.45,
      axisLine: { show: true, onZero: false, lineStyle: { color: '#222' } },
      axisTick: { show: true, length: 3, customValues: [-1.5, -1.0, -0.5] },
      axisLabel: { customValues: [-1.5, -1.0, -0.5], fontSize: 7.5, color: '#333', fontFamily: MPL, margin: 3, formatter: v => minus(v.toFixed(1)) },
      splitLine: { show: false } },
    { type: 'value', gridIndex: 1, min: 2.7, max: 6.0,
      axisLine: { show: true, onZero: false, lineStyle: { color: '#222' } },
      axisTick: { show: true, length: 3, customValues: [3, 4, 5] },
      axisLabel: { customValues: [3, 4, 5], fontSize: 7.5, color: '#333', fontFamily: MPL, margin: 3 },
      splitLine: { show: false } },
    { type: 'value', gridIndex: 2, min: 2.5, max: 6.0, interval: 0.5, offset: 5,
      axisLine: { show: true, onZero: false, lineStyle: { color: '#222', width: 1 } },
      axisTick: { show: true, length: 3, lineStyle: { color: '#333' } },
      axisLabel: { fontSize: 6.5, color: '#333', fontFamily: MPL, margin: 4, formatter: v => v.toFixed(1) },
      splitLine: { show: true, lineStyle: { color: '#cfcfcf', type: [3, 2], width: 0.8 } } },
    cYLeft(3, -1.32, 1.1, [-1, -0.5, 0, 0.5, 1], '\u03BC\u2082', v => v.toFixed(1)),
    cYRight(3, 0.817, 0.986, [0.85, 0.9, 0.95], v => v.toFixed(2)),
    cYLeft(4, -4.6, 5.3, [-4, -2, 0, 2, 4], '\u03BC\u2081', v => String(v)),
    cYRight(4, 1.01, 2.35, [1.25, 1.5, 1.75, 2.0, 2.25], v => v.toFixed(2)),
    cYLeft(5, -0.265, 1.265, [0, 0.5, 1], '\u03BC\u2080', v => v.toFixed(1)),
    cYRight(5, -0.09, 3.27, [0, 1, 2, 3], v => String(v))
  ],
  series: [
    lineSeries(0, 0, pairs(traceX, tvLight), '#9fc6e6', 0.7, 2),
    lineSeries(0, 0, pairs(traceX, tvDark), '#2a78b9', 0.7, 3),
    lineSeries(1, 1, pairs(traceX, ttLight), '#9fc6e6', 0.7, 2),
    lineSeries(1, 1, pairs(traceX, ttDark), '#2a78b9', 0.7, 3),
    { type: 'custom', xAxisIndex: 2, yAxisIndex: 2, silent: true, z: 2,
      data: kdeLevels.map((lv, i) => [lv[0][0], lv[0][1], i]),
      encode: { x: 0, y: 1 },
      renderItem: function (params, api) {
        const idx = api.value(2);
        return { type: 'polygon', shape: { points: kdeLevels[idx].map(p => api.coord(p)), smooth: 0.35 },
          style: { fill: kdeColors[idx] } };
      } },
    // node 2
    fillSeries(3, 4, n2Surprise, 0.825),
    bandSeries(3, 3, n2X, n2Lower, n2Upper, '#c6bdcc', 2),
    lineSeries(3, 3, pairs(n2X, n2Mean), '#76658a', 1, 3),
    lineSeries(3, 4, n2Surprise, '#4d4d4d', 0.8, 4),
    // node 1
    fillSeries(4, 6, pairs(trials, n1Surprise), 1.09),
    bandSeries(4, 5, n1X, n1Lo, n1Hi, 'rgba(210,90,95,0.47)', 2),
    lineSeries(4, 5, pairs(n1X, n1Mean), '#c44e52', 1, 3),
    lineSeries(4, 6, pairs(trials, n1Surprise), '#4d4d4d', 0.8, 4),
    // node 0
    fillSeries(5, 8, pairs(trials, n0Surprise), 0),
    bandSeries(5, 7, tealX, tealLo, tealHi, '#cde7e8', 2),
    bandSeries(5, 7, n0X, n0Lo, n0Hi, 'rgba(50,160,115,0.74)', 2),
    lineSeries(5, 7, pairs(n0X, n0Mean), '#3f9a66', 1, 3),
    { type: 'scatter', xAxisIndex: 5, yAxisIndex: 7, silent: true, z: 4, symbolSize: 5,
      data: trials.map((t, i) => [t, decisions[i] ? 1.2 : -0.2]),
      itemStyle: { color: 'rgba(185,185,185,0.6)' } },
    { type: 'scatter', xAxisIndex: 5, yAxisIndex: 7, silent: true, z: 4, symbolSize: 4.5,
      data: trials.map((t, i) => [t, inputs[i]]),
      itemStyle: { color: 'rgba(80,80,80,0.7)' } },
    lineSeries(5, 8, pairs(trials, n0Surprise), '#3a3a3a', 0.8, 5)
  ],
  graphic: { elements: G }
};

const chart = echarts.init(document.getElementById('chart'), null, { renderer: 'canvas' });
chart.setOption(option);
</script>
</body>
</html>
